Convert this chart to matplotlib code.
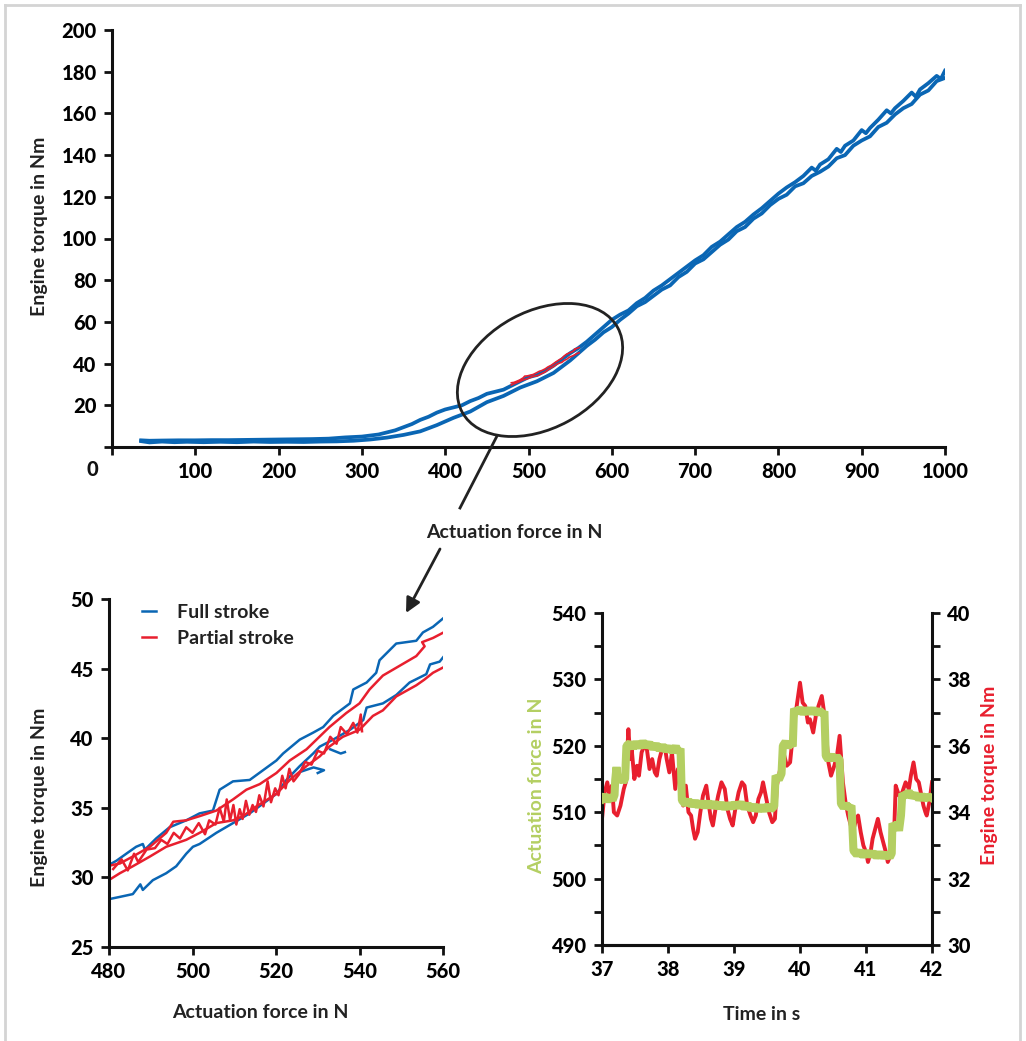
import matplotlib
matplotlib.use("Agg")
import matplotlib.pyplot as plt
from matplotlib import font_manager as fm
from matplotlib.patches import Ellipse, FancyArrowPatch
from matplotlib.lines import Line2D

BLUE = '#0a66b4'
RED = '#e81f2e'
GREEN = '#b4cf62'
INK = '#111111'

# top panel: full stroke, loading branch then unloading branch
full_up_force = [35, 45, 60, 75, 90, 110, 130, 150, 170, 190, 210, 230, 250, 270, 290,
                 310, 330, 350, 370, 390, 410, 430, 450, 470, 490, 510, 530, 550,
                 560, 570, 580, 590, 600, 610, 620, 630, 640, 650, 660, 670, 680, 690,
                 700, 710, 720, 730, 740, 750, 760, 770, 780, 790, 800, 810, 820, 830,
                 840, 850, 860, 870, 880, 890, 900, 910, 920, 930, 940, 950, 960, 970,
                 980, 990, 1000]
full_up_torque = [2.8, 2.2, 2.6, 2.3, 2.5, 2.3, 2.5, 2.3, 2.6, 2.4, 2.5, 2.4, 2.6, 2.7, 3.0,
                  3.6, 4.5, 5.8, 7.5, 10.5, 14.0, 17.0, 21.5, 24.5, 28.5, 31.5, 35.5, 41.5,
                  45.0, 48.5, 51.5, 55.0, 57.5, 61.0, 64.0, 67.5, 69.5, 72.5, 75.5, 77.5, 81.5,
                  84.0, 88.0, 90.0, 93.5, 97.0, 99.5, 103.5, 105.5, 109.5, 112.0, 116.0, 119.0,
                  121.0, 125.0, 126.5, 130.0, 132.0, 134.5, 138.5, 140.0, 144.5, 147.0, 149.0,
                  153.5, 155.5, 159.5, 162.5, 164.5, 169.0, 171.0, 175.5, 177.0]
full_down_force = [1000, 995, 990, 980, 970, 965, 960, 950, 940, 935, 930, 920, 910, 905,
                   900, 890, 880, 875, 870, 860, 850, 845, 840, 830, 820, 810, 800, 790,
                   780, 770, 760, 750, 740, 730, 720, 710, 700, 690, 680, 670, 660, 650,
                   640, 630, 620, 610, 600, 590, 580, 570, 560, 550, 540, 530, 520, 510,
                   500, 490, 480, 470, 460, 450, 440, 430, 420, 410, 400, 390, 380, 370,
                   360, 350, 340, 330, 320, 310, 300, 280, 260, 240, 220, 200, 180, 160,
                   140, 120, 100, 80, 60, 45, 35]
full_down_torque = [180.5, 176.5, 178.0, 174.5, 171.5, 168.0, 170.0, 166.0, 162.5, 160.0,
                    161.5, 157.0, 153.0, 150.5, 152.0, 147.0, 144.5, 141.5, 143.0, 138.0,
                    135.5, 132.5, 134.0, 130.0, 127.0, 124.5, 121.5, 118.0, 114.5, 111.5,
                    108.0, 105.5, 102.0, 98.5, 96.0, 92.0, 89.5, 86.5, 83.5, 80.5, 77.5,
                    75.0, 71.5, 69.0, 65.5, 63.5, 61.0, 57.5, 54.0, 50.5, 47.5, 45.0, 42.0,
                    39.0, 36.5, 34.5, 33.5, 31.5, 29.5, 27.5, 26.5, 25.5, 23.5, 22.0, 20.0,
                    19.0, 18.0, 16.5, 14.5, 13.0, 11.0, 9.5, 8.0, 7.0, 6.0, 5.5, 5.0, 4.6,
                    4.0, 3.8, 3.7, 3.6, 3.5, 3.4, 3.3, 3.3, 3.2, 3.2, 3.1, 3.0, 3.2]

# zoom panel: full stroke loop
fs_force_a = [479.4, 481.8, 484.6, 486.5, 488.1, 488.6, 491.3, 494.5, 498.5, 501.7, 504.9,
              506.5, 509.7, 513.7, 516.9, 520.1, 521.7, 525.7, 528.9, 531.3, 533.7, 537.7,
              538.5, 541.7, 544.0, 544.8, 548.8, 553.6, 555.2, 557.6, 560.8]
fs_torque_a = [30.8, 31.2, 31.8, 32.2, 32.4, 32.0, 32.8, 33.6, 34.1, 34.6, 34.8,
               36.3, 36.9, 37.0, 37.7, 38.4, 38.9, 39.9, 40.4, 40.8, 41.6, 42.5,
               43.5, 44.0, 44.7, 45.6, 46.8, 47.0, 47.6, 48.0, 48.8]
fs_force_b = [560.8, 560.0, 559.2, 556.9, 556.0, 552.0, 548.8, 545.6, 541.7, 540.9, 537.7,
              533.7, 530.5, 528.9, 525.7, 522.5, 520.1, 516.9, 513.7, 509.7, 505.7, 501.7,
              500.1, 498.5, 496.1, 493.7, 490.5, 488.1, 487.5, 485.7, 482.6, 479.4]
fs_torque_b = [46.1, 45.8, 45.5, 45.3, 44.6, 44.0, 43.1, 42.5, 42.2, 41.3, 40.6,
               39.9, 39.4, 38.9, 38.0, 37.0, 36.0, 35.3, 34.6, 33.9, 33.2, 32.4,
               32.2, 31.7, 30.8, 30.3, 29.8, 29.1, 29.5, 28.8, 28.6, 28.4]
fs_force_c = [526.0, 529.0, 531.5, 530.0]
fs_torque_c = [37.6, 37.9, 37.7, 37.5]
fs_force_d = [533.0, 535.5, 536.5]
fs_torque_d = [39.2, 38.9, 39.0]

# zoom panel: partial stroke loops
ps_force_a = [479.4, 482.6, 485.7, 489.8, 493.7, 495.4, 498.5, 501.7, 505.7, 509.7, 512.9,
              516.1, 520.1, 523.3, 527.3, 532.8, 536.8, 540.0, 542.4, 545.6, 549.6, 553.6,
              555.6, 555.0, 557.6, 560.8]
ps_torque_a = [30.8, 31.0, 31.5, 32.2, 33.2, 34.0, 34.1, 34.4, 34.8, 35.6, 36.3,
               36.7, 37.5, 38.4, 39.2, 40.8, 41.8, 42.5, 43.5, 44.5, 45.2, 45.9,
               46.6, 46.9, 47.2, 47.7]
ps_force_b = [560.8, 557.6, 555.5, 553.6, 548.8, 545.6, 543.2, 540.0, 536.0, 532.8, 530.5,
              527.3, 523.3, 520.1, 515.3, 512.1, 509.7, 505.7, 501.7, 498.5, 493.7, 489.8,
              485.7, 482.6, 479.4]
ps_torque_b = [45.2, 44.7, 44.2, 43.8, 43.0, 42.0, 41.6, 40.6, 40.1, 39.4, 38.7,
               38.0, 37.0, 36.0, 35.1, 34.4, 34.1, 33.9, 33.2, 32.7, 32.2, 31.5,
               30.8, 30.3, 29.7]
ps_force_c = [481.0, 483.0, 484.5, 486.0, 487.0, 489.0, 491.0, 492.5, 494.0, 495.5, 497.0,
              498.5, 500.0, 501.5, 503.0, 504.0, 505.5, 506.5, 507.5, 508.2, 509.0, 509.8,
              510.5, 511.3, 512.0, 512.8, 513.6, 514.4, 515.2, 516.0, 517.0, 518.0, 518.8,
              519.8, 520.6, 521.5, 522.3, 523.2, 524.2, 525.5, 527.0, 528.5, 530.0, 531.5,
              533.0, 534.5, 535.5, 537.0, 538.5, 539.5, 540.3, 540.6]
ps_torque_c = [30.6, 31.3, 30.5, 31.7, 31.1, 32.0, 32.1, 32.7, 32.4, 33.2, 32.8,
               33.6, 33.2, 33.9, 33.1, 34.1, 33.8, 35.0, 34.0, 35.6, 34.1, 35.2,
               33.8, 34.9, 34.2, 35.5, 34.5, 35.2, 34.7, 35.9, 35.1, 36.9, 35.4,
               36.4, 35.9, 37.3, 36.4, 37.8, 36.9, 37.4, 38.3, 38.1, 39.1, 38.9,
               40.1, 39.6, 40.8, 40.3, 41.1, 40.4, 41.7, 40.5]

# time panel
force_time = [37.00, 37.04, 37.08, 37.12, 37.16, 37.19, 37.20, 37.22, 37.24, 37.28, 37.32,
              37.35, 37.37, 37.42, 37.47, 37.52, 37.57, 37.62, 37.67, 37.72, 37.77, 37.82,
              37.87, 37.92, 37.97, 38.02, 38.07, 38.12, 38.16, 38.19, 38.21, 38.26, 38.31,
              38.36, 38.41, 38.46, 38.51, 38.56, 38.61, 38.66, 38.71, 38.76, 38.81, 38.86,
              38.91, 38.96, 39.01, 39.06, 39.11, 39.16, 39.21, 39.26, 39.31, 39.36, 39.41,
              39.46, 39.51, 39.56, 39.61, 39.63, 39.68, 39.72, 39.74, 39.78, 39.82, 39.86,
              39.89, 39.91, 39.95, 40.00, 40.05, 40.10, 40.15, 40.20, 40.25, 40.30, 40.35,
              40.37, 40.39, 40.43, 40.48, 40.52, 40.56, 40.60, 40.62, 40.66, 40.70, 40.74,
              40.78, 40.81, 40.86, 40.91, 40.96, 41.01, 41.06, 41.11, 41.16, 41.21, 41.26,
              41.31, 41.36, 41.39, 41.40, 41.44, 41.48, 41.50, 41.53, 41.55, 41.60, 41.65,
              41.70, 41.75, 41.80, 41.85, 41.90, 41.95, 42.00]
force_val = [512.0, 512.6, 511.6, 512.5, 511.8, 512.6, 514.8, 516.8, 514.6, 515.3, 514.6,
             515.0, 520.0, 520.4, 519.7, 520.5, 519.8, 520.6, 519.9, 520.4, 519.6, 520.2,
             519.4, 520.0, 519.3, 519.8, 519.1, 519.9, 519.0, 519.6, 511.8, 511.2, 511.8,
             511.0, 511.6, 510.9, 511.5, 510.8, 511.5, 510.8, 511.4, 510.7, 511.3, 510.6,
             511.2, 510.7, 511.3, 510.8, 511.4, 510.6, 511.2, 510.4, 511.0, 510.3, 510.9,
             510.3, 511.0, 510.4, 510.9, 515.5, 514.9, 515.8, 520.0, 520.6, 519.8, 520.4,
             519.9, 525.6, 525.0, 525.6, 524.9, 525.5, 525.0, 525.5, 524.9, 525.3, 524.8,
             525.2, 518.5, 517.9, 518.6, 517.9, 518.4, 517.9, 511.3, 510.7, 511.2, 510.6,
             511.0, 504.2, 503.6, 504.1, 503.4, 504.0, 503.5, 503.9, 503.3, 503.8, 503.3,
             503.7, 503.2, 503.8, 508.3, 507.8, 508.2, 507.2, 509.5, 512.8, 512.4, 513.1,
             512.3, 512.7, 512.0, 512.5, 512.0, 512.4, 512.1]
torque_time = [37.00, 37.04, 37.08, 37.12, 37.15, 37.18, 37.23, 37.28, 37.33, 37.36, 37.40,
               37.43, 37.45, 37.49, 37.53, 37.56, 37.60, 37.64, 37.68, 37.72, 37.76, 37.80,
               37.83, 37.87, 37.91, 37.95, 37.98, 38.02, 38.06, 38.11, 38.15, 38.19, 38.23,
               38.27, 38.31, 38.35, 38.38, 38.41, 38.45, 38.49, 38.53, 38.58, 38.62, 38.65,
               38.68, 38.72, 38.76, 38.81, 38.86, 38.90, 38.94, 38.98, 39.02, 39.07, 39.12,
               39.16, 39.20, 39.25, 39.29, 39.33, 39.37, 39.41, 39.44, 39.48, 39.53, 39.58,
               39.62, 39.65, 39.70, 39.75, 39.80, 39.85, 39.90, 39.95, 40.00, 40.04, 40.08,
               40.12, 40.15, 40.20, 40.24, 40.28, 40.33, 40.38, 40.43, 40.47, 40.52, 40.56,
               40.60, 40.65, 40.69, 40.73, 40.77, 40.80, 40.84, 40.88, 40.92, 40.96, 41.00,
               41.03, 41.07, 41.10, 41.14, 41.18, 41.22, 41.26, 41.30, 41.33, 41.37, 41.40,
               41.43, 41.45, 41.50, 41.55, 41.60, 41.65, 41.68, 41.72, 41.76, 41.80, 41.84,
               41.87, 41.90, 41.92, 41.96, 42.00]
torque_val = [33.8, 34.6, 34.9, 34.4, 34.8, 34.0, 33.9, 34.2, 34.7, 34.9, 36.5,
              35.6, 35.9, 35.0, 35.4, 35.1, 35.8, 36.0, 35.9, 35.3, 35.6, 35.2,
              35.1, 35.6, 35.9, 36.0, 35.6, 35.2, 35.8, 34.7, 35.3, 35.0, 34.2,
              34.8, 34.0, 33.9, 33.5, 33.2, 33.4, 34.0, 34.5, 34.8, 34.2, 33.8,
              33.6, 34.1, 34.5, 34.9, 34.7, 34.1, 33.8, 33.6, 34.1, 34.6, 34.9,
              34.8, 34.2, 33.9, 33.7, 33.9, 34.4, 34.6, 34.9, 34.5, 34.0, 33.7,
              33.8, 34.8, 35.3, 35.8, 35.4, 35.5, 36.5, 37.2, 37.9, 37.3, 37.2,
              36.7, 36.8, 36.4, 36.9, 37.2, 37.5, 36.8, 35.5, 35.1, 35.4, 35.7,
              36.3, 34.9, 34.3, 33.9, 33.6, 33.4, 33.7, 33.9, 33.4, 33.0, 32.8,
              32.5, 32.8, 33.2, 33.5, 33.8, 33.4, 33.1, 32.8, 32.5, 32.7, 33.0,
              33.6, 34.8, 34.5, 34.6, 34.9, 34.7, 35.1, 35.5, 35.0, 34.9, 34.5,
              34.2, 34.0, 33.9, 34.3, 34.9]


# pick a sans family that really has a bold face installed
def weight_num(w):
    if isinstance(w, int):
        return w
    return {'light': 300, 'normal': 400, 'regular': 400, 'medium': 500, 'semibold': 600,
            'demibold': 600, 'bold': 700, 'extra bold': 800, 'heavy': 900,
            'black': 900}.get(str(w).lower(), 400)


FAMILY, HEAVY = 'DejaVu Sans', 700
for fam in ['Lato', 'Open Sans', 'Noto Sans', 'Roboto', 'Inter', 'Liberation Sans']:
    ws = [weight_num(f.weight) for f in fm.fontManager.ttflist
          if f.name == fam and f.style == 'normal']
    if ws and max(ws) >= 700:
        FAMILY, HEAVY = fam, max(ws)
        break
plt.rcParams['font.family'] = [FAMILY, 'DejaVu Sans']

W, H = 1026, 1041
fig = plt.figure(figsize=(W / 100, H / 100), dpi=100)


def box(l, t, r, b):
    return [l / W, 1 - b / H, (r - l) / W, (b - t) / H]


def style(ax, sides):
    for s in ['left', 'right', 'top', 'bottom']:
        ax.spines[s].set_visible(s in sides)
        ax.spines[s].set_linewidth(2.2)
        ax.spines[s].set_color(INK)
    ax.tick_params(width=2.0, length=6, color=INK, labelsize=14.5, pad=5)
    for lab in ax.get_xticklabels() + ax.get_yticklabels():
        lab.set_fontweight(HEAVY)


tick_font = dict(fontsize=14.5, fontweight=HEAVY, color=INK)
label_font = dict(fontsize=14, fontweight='bold', color='#222222')

# ---- top panel
ax1 = fig.add_axes(box(112, 30, 945, 447))
ax1.plot(full_up_force, full_up_torque, color=BLUE, lw=2.7)
ax1.plot(full_down_force, full_down_torque, color=BLUE, lw=2.7)
ax1.plot(ps_force_a, ps_torque_a, color=RED, lw=1.2)
ax1.plot(ps_force_b, ps_torque_b, color=RED, lw=1.2)
ax1.set_xlim(0, 1000)
ax1.set_ylim(0, 200)
ax1.set_xticks(range(0, 1001, 100))
ax1.set_xticklabels([''] + [str(v) for v in range(100, 1001, 100)])
ax1.set_yticks(range(0, 201, 20))
ax1.set_yticklabels([''] + [str(v) for v in range(20, 201, 20)])
style(ax1, ['left', 'bottom'])
ax1.set_ylabel('Engine torque in Nm', **label_font)
ax1.yaxis.set_label_coords(-0.077, 0.53)
fig.text(92 / W, 1 - 470 / H, '0', ha='center', va='center', **tick_font)
fig.text(514 / W, 1 - 532 / H, 'Actuation force in N', ha='center', va='center', **label_font)

# ellipse and pointer
fig.add_artist(Ellipse((540 / 100, (H - 370) / 100), 1.77, 1.17, angle=28.5,
                       transform=fig.dpi_scale_trans, fill=False, lw=2.0, ec='#222222'))
fig.add_artist(Line2D([497 / W, 460 / W], [1 - 436 / H, 1 - 508 / H], color='#222222', lw=2.0))
fig.add_artist(FancyArrowPatch((440 / W, 1 - 549 / H), (406 / W, 1 - 613 / H),
                               transform=fig.transFigure, arrowstyle='-|>', lw=2.0,
                               color='#222222', mutation_scale=22, shrinkA=0, shrinkB=0,
                               zorder=10))

# ---- bottom left panel
ax2 = fig.add_axes(box(109, 599, 443, 947))
ax2.plot(fs_force_a, fs_torque_a, color=BLUE, lw=1.8, label='Full stroke')
ax2.plot(fs_force_b, fs_torque_b, color=BLUE, lw=1.8)
ax2.plot(fs_force_c, fs_torque_c, color=BLUE, lw=1.8)
ax2.plot(fs_force_d, fs_torque_d, color=BLUE, lw=1.8)
ax2.plot(ps_force_a, ps_torque_a, color=RED, lw=1.8, label='Partial stroke')
ax2.plot(ps_force_b, ps_torque_b, color=RED, lw=1.8)
ax2.plot(ps_force_c, ps_torque_c, color=RED, lw=1.8)
ax2.set_xlim(480, 560)
ax2.set_ylim(25, 50)
ax2.set_xticks(range(480, 561, 20))
ax2.set_yticks(range(25, 51, 5))
style(ax2, ['left', 'bottom'])
ax2.set_xlabel('Actuation force in N', **label_font)
ax2.xaxis.set_label_coords(0.452, -0.164)
ax2.set_ylabel('Engine torque in Nm', **label_font)
ax2.yaxis.set_label_coords(-0.183, 0.43)
leg = ax2.legend(loc='upper left', bbox_to_anchor=(0.07, 1.015), frameon=False,
                 handlelength=0.7, handletextpad=1.1, labelspacing=0.5, borderpad=0,
                 prop=dict(family=FAMILY, weight='bold', size=14))
for t in leg.get_texts():
    t.set_color('#222222')

# ---- bottom right panel
ax3 = fig.add_axes(box(602, 613, 932, 945))
ax3.plot(force_time, force_val, color=GREEN, lw=5.8, solid_joinstyle='bevel', zorder=3)
ax3.set_xlim(37, 42)
ax3.set_ylim(490, 540)
ax3.set_xticks(range(37, 43))
ax3.set_yticks(range(490, 541, 10))
ax3.set_yticks(range(495, 540, 10), minor=True)
ax4 = ax3.twinx()
ax4.plot(torque_time, torque_val, color=RED, lw=2.8, zorder=2)
ax4.set_ylim(30, 40)
ax4.set_yticks(range(30, 41, 2))
ax4.set_yticks(range(31, 40, 2), minor=True)
ax3.set_zorder(ax4.get_zorder() + 1)
ax3.patch.set_visible(False)
style(ax3, ['left', 'bottom'])
style(ax4, ['right', 'bottom'])
for a in (ax3, ax4):
    a.tick_params(which='minor', width=2.0, length=6, color=INK)
ax3.set_xlabel('Time in s', **label_font)
ax3.xaxis.set_label_coords(0.485, -0.184)
ax3.set_ylabel('Actuation force in N', fontsize=14, fontweight='bold', color=GREEN)
ax3.yaxis.set_label_coords(-0.173, 0.48)
ax4.set_ylabel('Engine torque in Nm', fontsize=14, fontweight='bold', color=RED,
               rotation=90)
ax4.yaxis.set_label_coords(1.149, 0.51)

# light frame around the figure
for xs, ys in [([5, 5], [H, 5]), ([5, 1020], [5, 5]), ([1020, 1020], [5, H])]:
    fig.add_artist(Line2D([x / W for x in xs], [1 - y / H for y in ys], color='#d4d4d4', lw=2.0))

fig.savefig('out.png', dpi=100)
